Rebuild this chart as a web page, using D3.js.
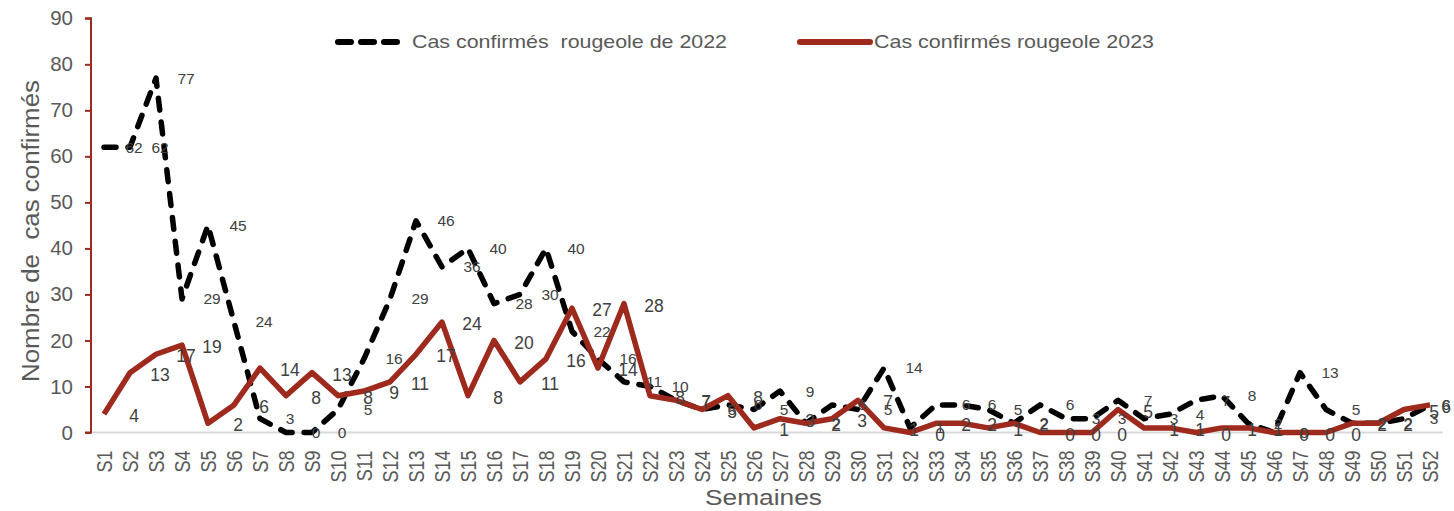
<!DOCTYPE html>
<html>
<head>
<meta charset="utf-8">
<script src="https://cdn.jsdelivr.net/npm/d3@7"></script>
<style>
body{margin:0;background:#fff;}
svg text{font-family:Arial,"Liberation Sans",sans-serif;}
</style>
</head>
<body>
<svg id="svg" width="1454" height="511"></svg>
<script>
// semaines
var weeks=[];
for(var i=1;i<=52;i++) weeks.push("S"+i);

var cases2022=[62,62,77,29,45,24,3,0,0,5,16,29,46,36,40,28,30,40,22,16,11,10,7,5,6,5,9,2,6,5,14,1,6,6,5,2,6,3,3,7,3,4,7,8,2,0,13,5,2,2,3,6];
var cases2023=[4,13,17,19,2,6,14,8,13,8,9,11,17,24,8,20,11,16,27,14,28,8,7,5,8,1,3,2,3,7,1,0,2,2,1,2,0,0,0,5,1,1,0,1,1,0,0,0,2,2,5,6];
var yTicks=[0,10,20,30,40,50,60,70,80,90];
var seriesNames=["Cas confirmés  rougeole de 2022","Cas confirmés rougeole 2023"];

var svg=d3.select("#svg");
var grey="#595959";
var red="#9e2a1e";

var x=d3.scalePoint().domain(weeks).range([91,1443]).padding(0.5);
var y=d3.scaleLinear().domain([0,90]).range([432.5,18.3]);

// x axis line
svg.append("line")
    .attr("x1",91).attr("x2",1443)
    .attr("y1",y(0)).attr("y2",y(0))
    .style("stroke","#d9d9d9").style("stroke-width",2)

// y axis
var yAxis=svg.append("g")
    .attr("transform","translate(91,0)")
    .call(d3.axisLeft(y).tickValues(yTicks).tickSize(6).tickPadding(12))
yAxis.selectAll("path,line").style("stroke",red).style("stroke-width",2)
yAxis.select(".domain").attr("d","M-6,"+y(90)+"H0V"+y(0)+"H-6")
yAxis.selectAll("text")
    .style("font-size","20.5px").style("fill",grey)
    .style("font-family","Arial,'Liberation Sans',sans-serif")

// x tick labels
var xAxis=svg.append("g")
    .attr("transform","translate(0,"+y(0)+")")
    .call(d3.axisBottom(x).tickSize(0))
xAxis.select(".domain").remove()
xAxis.selectAll("text")
    .attr("transform","scale(1.2,1) rotate(-90)")
    .attr("x",-18).attr("y",0).attr("dy","0.35em")
    .style("text-anchor","end")
    .style("font-size","18px").style("fill",grey)
    .style("font-family","Arial,'Liberation Sans',sans-serif")

// titres
svg.append("text")
    .attr("x",705).attr("y",505)
    .attr("textLength",117).attr("lengthAdjust","spacingAndGlyphs")
    .style("font-size","22.5px").style("fill",grey)
    .text("Semaines")

svg.append("text")
    .attr("transform","translate(39,382) rotate(-90)")
    .attr("textLength",302).attr("lengthAdjust","spacingAndGlyphs")
    .style("font-size","23.5px").style("fill",grey)
    .style("white-space","pre")
    .text("Nombre de  cas confirmés")

var line=d3.line().x((d,i)=>x(weeks[i])).y(d=>y(d));

svg.append("path")
    .datum(cases2022)
    .attr("d",line)
    .style("fill","none").style("stroke","#000")
    .style("stroke-width",5.5)
    .style("stroke-dasharray","12,12")
    .style("stroke-linecap","round")
    .style("stroke-linejoin","round")

svg.append("path")
    .datum(cases2023)
    .attr("d",line)
    .style("fill","none").style("stroke",red)
    .style("stroke-width",5.5)
    .style("stroke-linejoin","round")

// étiquettes (décalées à droite du point)
var labX=(d,i)=>Math.min(x(weeks[i])+30,1446);

svg.selectAll(".lab22")
    .data(cases2022).enter().append("text")
        .attr("class","lab22")
        .attr("x",labX)
        .attr("y",d=>y(d))
        .attr("dy","0.35em")
        .attr("text-anchor","middle")
        .style("font-size","15.5px").style("fill","#404040")
        .text(d=>d)

svg.selectAll(".lab23")
    .data(cases2023).enter().append("text")
        .attr("class","lab23")
        .attr("x",labX)
        .attr("y",d=>y(d)+2)
        .attr("dy","0.35em")
        .attr("text-anchor","middle")
        .style("font-size","17.5px").style("fill","#404040")
        .text(d=>d)

// légende
var leg=svg.append("g")
leg.append("line")
    .attr("x1",338).attr("x2",397).attr("y1",42).attr("y2",42)
    .style("stroke","#000").style("stroke-width",6)
    .style("stroke-dasharray","13,10").style("stroke-linecap","round")
leg.append("text")
    .attr("x",412).attr("y",48)
    .style("font-size","18.5px").style("fill",grey)
    .style("white-space","pre")
    .attr("textLength",315).attr("lengthAdjust","spacingAndGlyphs")
    .text(seriesNames[0])
leg.append("line")
    .attr("x1",800).attr("x2",870).attr("y1",42).attr("y2",42)
    .style("stroke",red).style("stroke-width",6)
    .style("stroke-linecap","round")
leg.append("text")
    .attr("x",874).attr("y",48)
    .style("font-size","18.5px").style("fill",grey)
    .attr("textLength",280).attr("lengthAdjust","spacingAndGlyphs")
    .text(seriesNames[1])
</script>
</body>
</html>
